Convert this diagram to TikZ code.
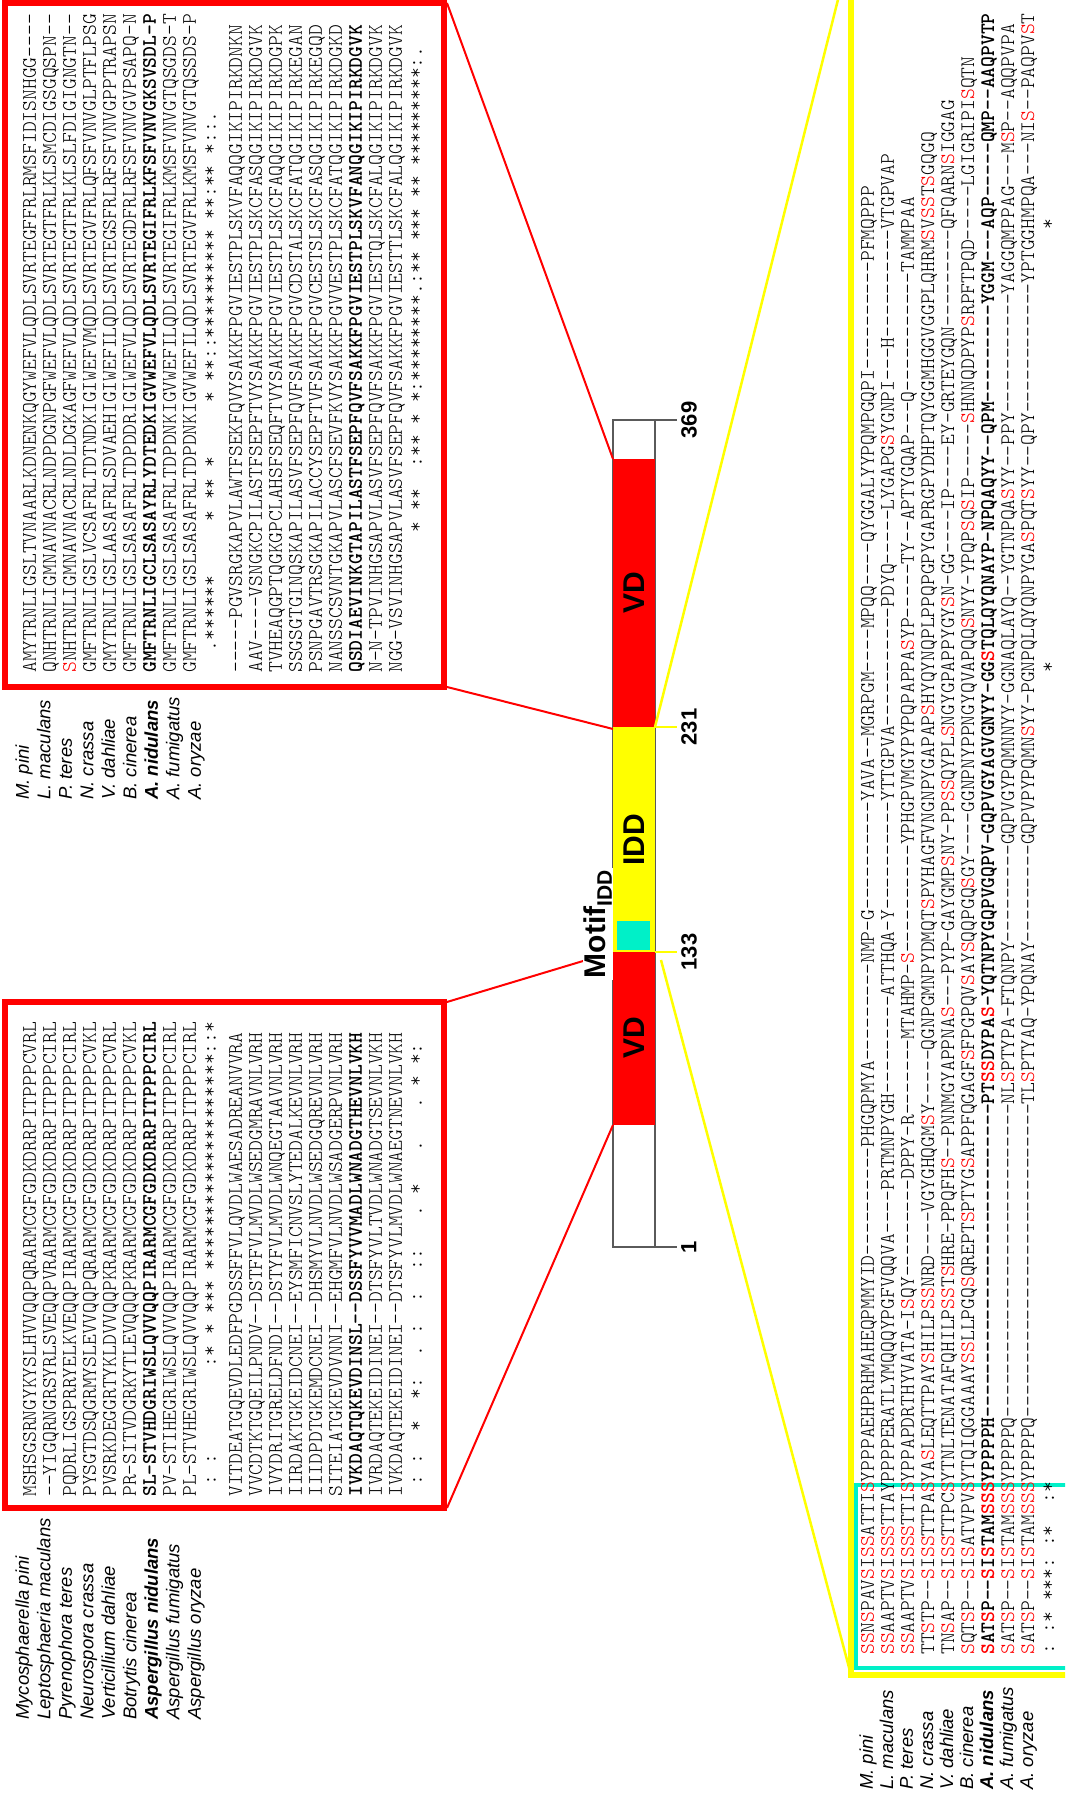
\documentclass[tikz,border=0pt]{standalone}
\usepackage{fontspec}
\setmainfont{Liberation Sans}
\setmonofont{lmmonolt10}[Extension=.otf, UprightFont=*-regular, BoldFont=*-bold]
\usetikzlibrary{positioning, calc}

\definecolor{vdred}{RGB}{255,0,0}
\definecolor{iddyellow}{RGB}{255,255,0}
\definecolor{motifcyan}{RGB}{0,240,200}
\definecolor{bargray}{RGB}{90,90,90}

\newcommand{\seqfont}{\fontsize{20.57}{20}\selectfont\ttfamily\frenchspacing}
\newcommand{\spfont}{\fontsize{18.5}{20}\selectfont}
% red S inside the IDD block
\def\sred#1{\ifx#1\relax\else\ifx#1S\textcolor{red}{S}\else#1\fi\expandafter\sred\fi}

\tikzset{
    seq/.style={anchor=base west, inner sep=0pt, yshift=-1pt, font=\seqfont},
    seqb/.style={seq, font=\seqfont\bfseries},
    sp/.style={anchor=base west, inner sep=0pt, font=\spfont\itshape},
    spb/.style={sp, font=\spfont\bfseries\itshape},
    redbox/.style={draw=vdred, line width=6pt},
    yelbox/.style={draw=iddyellow, line width=6pt},
    cyanbox/.style={draw=motifcyan, line width=3.5pt},
    redlink/.style={draw=vdred, line width=2pt},
    yellink/.style={draw=iddyellow, line width=2.5pt},
    barline/.style={draw=bargray, line width=1.5pt},
    domlbl/.style={font=\fontsize{30}{30}\selectfont\bfseries, inner sep=0pt},
    numlbl/.style={font=\fontsize{22}{22}\selectfont\bfseries, inner sep=0pt, anchor=north}
}

\begin{document}
\begin{tikzpicture}[x=1pt, y=1pt]
\begin{scope}[rotate=90, transform shape]
    \useasboundingbox (0,0) rectangle (1795,1065);
    \clip (0,0) rectangle (1795,1065);

    % ---- protein bar ----
    \draw[barline] (548,410) rectangle (1375,452);
    \fill[vdred] (670,410) rectangle (843,452);
    \fill[iddyellow] (843,410) rectangle (1068,452);
    \fill[vdred] (1068,410) rectangle (1336,452);
    \fill[motifcyan] (845,415) rectangle (874,448);
    \node[domlbl] (vd1) at (757,431) {VD};
    \node[domlbl] (idd) at (955,431) {IDD};
    \node[domlbl] (vd2) at (1202,431) {VD};

    % bar positions
    \coordinate (b1) at (548,452);
    \coordinate (b369) at (1375,452);
    \coordinate (vdAs) at (670,452);
    \coordinate (m133) at (843,452);
    \coordinate (m231) at (1066,452);
    \coordinate (vdBe) at (1336,452);
    \coordinate (y133) at (835,404);
    \coordinate (y231) at (1068,410);
    \draw[barline] (b1) -- ++(0,-64) coordinate (t1);
    \draw[barline] (b369) -- ++(0,-64) coordinate (t369);
    \draw[iddyellow, line width=2.5pt] (843,410) -- (843,388) coordinate (t133);
    \draw[iddyellow, line width=2.5pt] (1068,410) -- (1068,388) coordinate (t231);
    \node[numlbl] (n1) at ([yshift=-4pt]t1) {1};
    \node[numlbl] (n133) at ([yshift=-4pt]t133) {133};
    \node[numlbl] (n231) at ([yshift=-4pt]t231) {231};
    \node[numlbl] (n369) at ([yshift=-4pt]t369) {369};

    % ---- alignment boxes ----
    \draw[redbox] (287,621) rectangle (793,1060);
    \draw[redbox] (1108,621) rectangle (1792,1060);
    \draw[yelbox] (120,-20) rectangle (1900,214);
    \draw[cyanbox] (127,-20) rectangle (310,209);
    \coordinate (lbL) at (287,618);
    \coordinate (lbR) at (793,618);
    \coordinate (tbL) at (1108,618);
    \coordinate (tbR) at (1792,618);
    \coordinate (ybL) at (120,214);
    \coordinate (ybR) at (1847,214);

    % links from boxes to the bar
    \draw[redlink] (lbL) -- (vdAs);
    \draw[redlink] (lbR) -- (m133);
    \draw[redlink] (tbL) -- (m231);
    \draw[redlink] (tbR) -- (vdBe);
    \draw[yellink] (ybL) -- (y133);
    \draw[yellink] (ybR) -- (y231);

    % Motif label over the link
    \node[font=\fontsize{30}{30}\selectfont\bfseries, fill=white, inner sep=1.5pt, anchor=base] (motif) at (871,459) {Motif\textsubscript{IDD}};

    % ---- N-terminal VD alignment ----
    \node[sp] (ln1) at (75,1036) {Mycosphaerella pini};
    \node[sp] (ln2) at (75,1014.5) {Leptosphaeria maculans};
    \node[sp] (ln3) at (75,993) {Pyrenophora teres};
    \node[sp] (ln4) at (75,971.5) {Neurospora crassa};
    \node[sp] (ln5) at (75,950) {Verticillium dahliae};
    \node[sp] (ln6) at (75,928.5) {Botrytis cinerea};
    \node[spb] (ln7) at (75,907) {Aspergillus nidulans};
    \node[sp] (ln8) at (75,885.5) {Aspergillus fumigatus};
    \node[sp] (ln9) at (75,864) {Aspergillus oryzae};

    \node[seq] (la1) at (298,1030) {MSHSGSRNGYKYSLHVVQQPQRARMCGFGDKDRRPITPPPCVRL};
    \node[seq] (la2) at (298,1010) {--YIGQRNGRSYRLSVEQQPVRARMCGFGDKDRRPITPPPCIRL};
    \node[seq] (la3) at (298,990) {PQDRLIGSPRRYELKVEQQPIRARMCGFGDKDRRPITPPPCIRL};
    \node[seq] (la4) at (298,970) {PYSGTDSQGRMYSLEVVQQPQRARMCGFGDKDRRPITPPPCVKL};
    \node[seq] (la5) at (298,950) {PVSRKDEGGRTYKLDVVQQPKRARMCGFGDKDRRPITPPPCVRL};
    \node[seq] (la6) at (298,930) {PR-SITVDGRKYTLEVQQQPKRARMCGFGDKDRRPITPPPCVKL};
    \node[seqb] (la7) at (298,910) {SL-STVHDGRIWSLQVVQQPIRARMCGFGDKDRRPITPPPCIRL};
    \node[seq] (la8) at (298,890) {PV-STIHEGRIWSLQVVQQPIRARMCGFGDKDRRPITPPPCIRL};
    \node[seq] (la9) at (298,870) {PL-STVHEGRIWSLQVVQQPIRARMCGFGDKDRRPITPPPCIRL};
    \node[seq] (lac) at (298,850) {~:~:~~~~~~~~:*~*~***~********************::*};

    \node[seq] (lb1) at (298,824) {VITDEATGQEVDLEDFPGDSSFFVLQVDLWAESADREANVVRA};
    \node[seq] (lb2) at (298,804) {VVCDTKTGQEILPNDV--DSTFFVLMVDLWSEDGMRAVNLVRH};
    \node[seq] (lb3) at (298,784) {IVYDRITGRELDFNDI--DSTYFVLMVDLWNQEGTAAVNLVRH};
    \node[seq] (lb4) at (298,764) {IIRDAKTGKEIDCNEI--EYSMFICNVSLYTEDALKEVNLVRH};
    \node[seq] (lb5) at (298,744) {IIIDPDTGKEMDCNEI--DHSMYVLNVDLWSEDGQREVNLVRH};
    \node[seq] (lb6) at (298,724) {SITEIATGKEVDVNNI--EHGMFVLNVDLWSADGERPVNLVRH};
    \node[seqb] (lb7) at (298,704) {IVKDAQTQKEVDINSL--DSSFYVVMADLWNADGTHEVNLVKH};
    \node[seq] (lb8) at (298,684) {IVRDAQTEKEIDINEI--DTSFYVLTVDLWNADGTSEVNLVKH};
    \node[seq] (lb9) at (298,664) {IVKDAQTEKEIDINEI--DTSFYVLMVDLWNAEGTNEVNLVKH};
    \node[seq] (lbc) at (298,644) {~:~:~~*~~*:~~.~:~~:~~::~~~.~*~~~.~~~.~*~*:~};

    % ---- C-terminal VD alignment ----
    \node[sp] (tn1) at (995,1036) {M. pini};
    \node[sp] (tn2) at (995,1014.5) {L. maculans};
    \node[sp] (tn3) at (995,993) {P. teres};
    \node[sp] (tn4) at (995,971.5) {N. crassa};
    \node[sp] (tn5) at (995,950) {V. dahliae};
    \node[sp] (tn6) at (995,928.5) {B. cinerea};
    \node[spb] (tn7) at (995,907) {A. nidulans};
    \node[sp] (tn8) at (995,885.5) {A. fumigatus};
    \node[sp] (tn9) at (995,864) {A. oryzae};

    \node[seq] (ta1) at (1122,1030) {AMYTRNLIGSLTVNAARLKDNENKQGYWEFVLQDLSVRTEGFFRLRMSFIDISNHGG----};
    \node[seq] (ta2) at (1122,1010) {QNHTRNLIGMNAVNACRLNDPDGNPGFWEFVLQDLSVRTEGTFRLKLSMCDIGSGQSPN--};
    \node[seq] (ta3) at (1122,990) {\textcolor{red}{S}NHTRNLIGMNAVNACRLNDLDGKAGFWEFVLQDLSVRTEGTFRLKLSLFDIGIGNGTN--};
    \node[seq] (ta4) at (1122,970) {GMFTRNLIGSLVCSAFRLTDTNDKIGIWEFVMQDLSVRTEGVFRLQFSFVNVGLPTFLPSG};
    \node[seq] (ta5) at (1122,950) {GMYTRNLIGSLAASAFRLSDVAEHIGIWEFILQDLSVRTEGSFRLRFSFVNVGPPTRAPSN};
    \node[seq] (ta6) at (1122,930) {GMFTRNLIGSLSASAFRLTDPDDRIGIWEFVLQDLSVRTEGDFRLRFSFVNVGVPSAPQ-N};
    \node[seqb] (ta7) at (1122,910) {GMFTRNLIGCLSASAYRLYDTEDKIGVWEFVLQDLSVRTEGIFRLKFSFVNVGKSVSDL-P};
    \node[seq] (ta8) at (1122,890) {GMFTRNLIGSLSASAFRLTDPDNKIGVWEFILQDLSVRTEGIFRLKMSFVNVGTQSGDS-T};
    \node[seq] (ta9) at (1122,870) {GMFTRNLIGSLSASAFRLTDPDNKIGVWEFILQDLSVRTEGVFRLKMSFVNVGTQSSDS-P};
    \node[seq] (tac) at (1122,850) {~~.******~~~~~*~**~*~~~~~*~**::**********~**:**~*::.~~~~~~~~};

    \node[seq] (tb1) at (1122,824) {-----PGVSRGKAPVLAWTFSEKFQVYSAKKFPGVIESTPLSKVFAQQGIKIPIRKDNKN};
    \node[seq] (tb2) at (1122,804) {AAV----VSNGKCPILASTFSEPFTVYSAKKFPGVIESTPLSKCFASQGIKIPIRKDGVK};
    \node[seq] (tb3) at (1122,784) {TVHEAQGPTQGKGPCLAHSFSEQFTVYSAKKFPGVIESTPLSKCFAQQGIKIPIRKDGPK};
    \node[seq] (tb4) at (1122,764) {SSGSGTGINQSKAPILASVFSEPFQVFSAKKFPGVCDSTALSKCFATQGIKIPIRKEGAN};
    \node[seq] (tb5) at (1122,744) {PSNPGAVTRSGKAPILACCYSEPFTVFSAKKFPGVCESTSLSKCFASQGIKIPIRKEGQD};
    \node[seq] (tb6) at (1122,724) {NANSSCSVNTGKAPVLASCFSEVFKVYSAKKFPGVVESTPLSKCFATQGIKIPIRKDGKD};
    \node[seqb] (tb7) at (1122,704) {QSDIAEVINKGTAPILASTFSEPFQVFSAKKFPGVIESTPLSKVFANQGIKIPIRKDGVK};
    \node[seq] (tb8) at (1122,684) {N-N-TPVINHGSAPVLASVFSEPFQVFSAKKFPGVIESTQLSKCFALQGIKIPIRKDGVK};
    \node[seq] (tb9) at (1122,664) {NGG-VSVINHGSAPVLASVFSEPFQVFSAKKFPGVIESTTLSKCFALQGIKIPIRKDGVK};
    \node[seq] (tbc) at (1122,644) {~~~~~~~~~~~~~*~**~~:**~*~*:********.:**~***~**~*********:.~~};

    % ---- IDD alignment ----
    \node[sp] (yn1) at (5,192) {M. pini};
    \node[sp] (yn2) at (5,172) {L. maculans};
    \node[sp] (yn3) at (5,152) {P. teres};
    \node[sp] (yn4) at (5,132) {N. crassa};
    \node[sp] (yn5) at (5,112) {V. dahliae};
    \node[sp] (yn6) at (5,92) {B. cinerea};
    \node[spb] (yn7) at (5,72) {A. nidulans};
    \node[sp] (yn8) at (5,52) {A. fumigatus};
    \node[sp] (yn9) at (5,32) {A. oryzae};

    \node[seq] (ya1) at (140,192) {\sred SSNSPAVSISSATTISYPPPAEHPRHMAHEQPMMYID----------PHGQPMYA---------NMP-G----------YAVA--MGRPGM----MPQQ----QYGGALYYPQMPGQPI----------PFMQPPP\relax};
    \node[seq] (ya2) at (140,172) {\sred SSAAPTVSISSSTTAYPPPPERATLYMQQQYPGFVQQVA----PRTMNPYGH---------ATTHQA-Y----------YTTGPVA-----------PDYQ-----LYGAPGSYGNPI---H----------VTGPVAP\relax};
    \node[seq] (ya3) at (140,152) {\sred SSAAPTVSISSSTTISYPPAPDRTHYVATA-ISQY---------DPPY-R-------MTAHMP-S----------YPHGPVMGYPYPQPAPPASYP-----TY--APTYGQAP---Q-----------TAMMPAA\relax};
    \node[seq] (ya4) at (140,132) {\sred TTSTP--SISSTTPASYASLEQTTPAYSHILPSSNRD----VGYGHQGMSY-----QGNPGMNPYDMQTSPYHAGFVNGNPYGAPAPSHYQYNQPLPPQPGPYGAPRGPYDHPTQYGGMHGGVGGPLQHRMSVSSTSGQGQ\relax};
    \node[seq] (ya5) at (140,112) {\sred TNSAP--SISSTTPCSYTNLTENATAFQHILPSSTSHRE-PPQFHS--PNNMGYAPPNAS---PYP-GAYGMPSNY-PPSSQYPLSNGYGPAPPYGYSN-GG----IP----EY-GRTEYGQN---------QFQARNSIGGAG\relax};
    \node[seq] (ya6) at (140,92) {\sred SQTSP--SISATVPVSYTQIQGGAAAYSSLLPGQSQREPTSPTYGSAPPFQGAGFSFPGPQVSAYSQQPGQSGY----GGNPNYPPNGYQVAPQQSNYY-YPQPSQSIP-----SHNNQDPYPSRPFTPQD-----LGIGRIPISQTN\relax};
    \node[seqb] (ya7) at (140,72) {\sred SATSP--SISTAMSSSYPPPPH-----------------------------PTSSDYPAS-YQTNPYGQPVGQPV-GQPVGYAGVGNYY-GGSTQLQYQNAYP-NPQAQYY--QPM---------YGGM---AQP-----QMP--AAQPVTP\relax};
    \node[seq] (ya8) at (140,52) {\sred SATSP--SISTAMSSSYPPPPQ-----------------------------NLSPTYPA-FTQNPY---------GQPVGYPQMNNYY-GGNAQLAYQ--YGTNPQASYY--PPY-----------YAGGQMPPAG---MSP--AQQPVPA\relax};
    \node[seq] (ya9) at (140,32) {\sred SATSP--SISTAMSSSYPPPPQ-----------------------------TLSPTYAQ-YPQNAY---------GQPVPYPQMNSYY-PGNPQLQYQNPYGASPQTSYY--QPY------------YPTGGHMPQA---NIS--PAQPVST\relax};
    \node[seq] (yac) at (140,12) {:~:*~***:~:*~~:*~~~~~~~~~~~~~~~~~~~~~~~~~~~~~~~~~~~~~~~~~~~~~~~~~~~~~~~~~~~~~~~~~~~~~~~~~~~*~~~~~~~~~~~~~~~~~~~~~~~~~~~~~~~~~~~~~~~~*};
\end{scope}
\end{tikzpicture}
\end{document}
